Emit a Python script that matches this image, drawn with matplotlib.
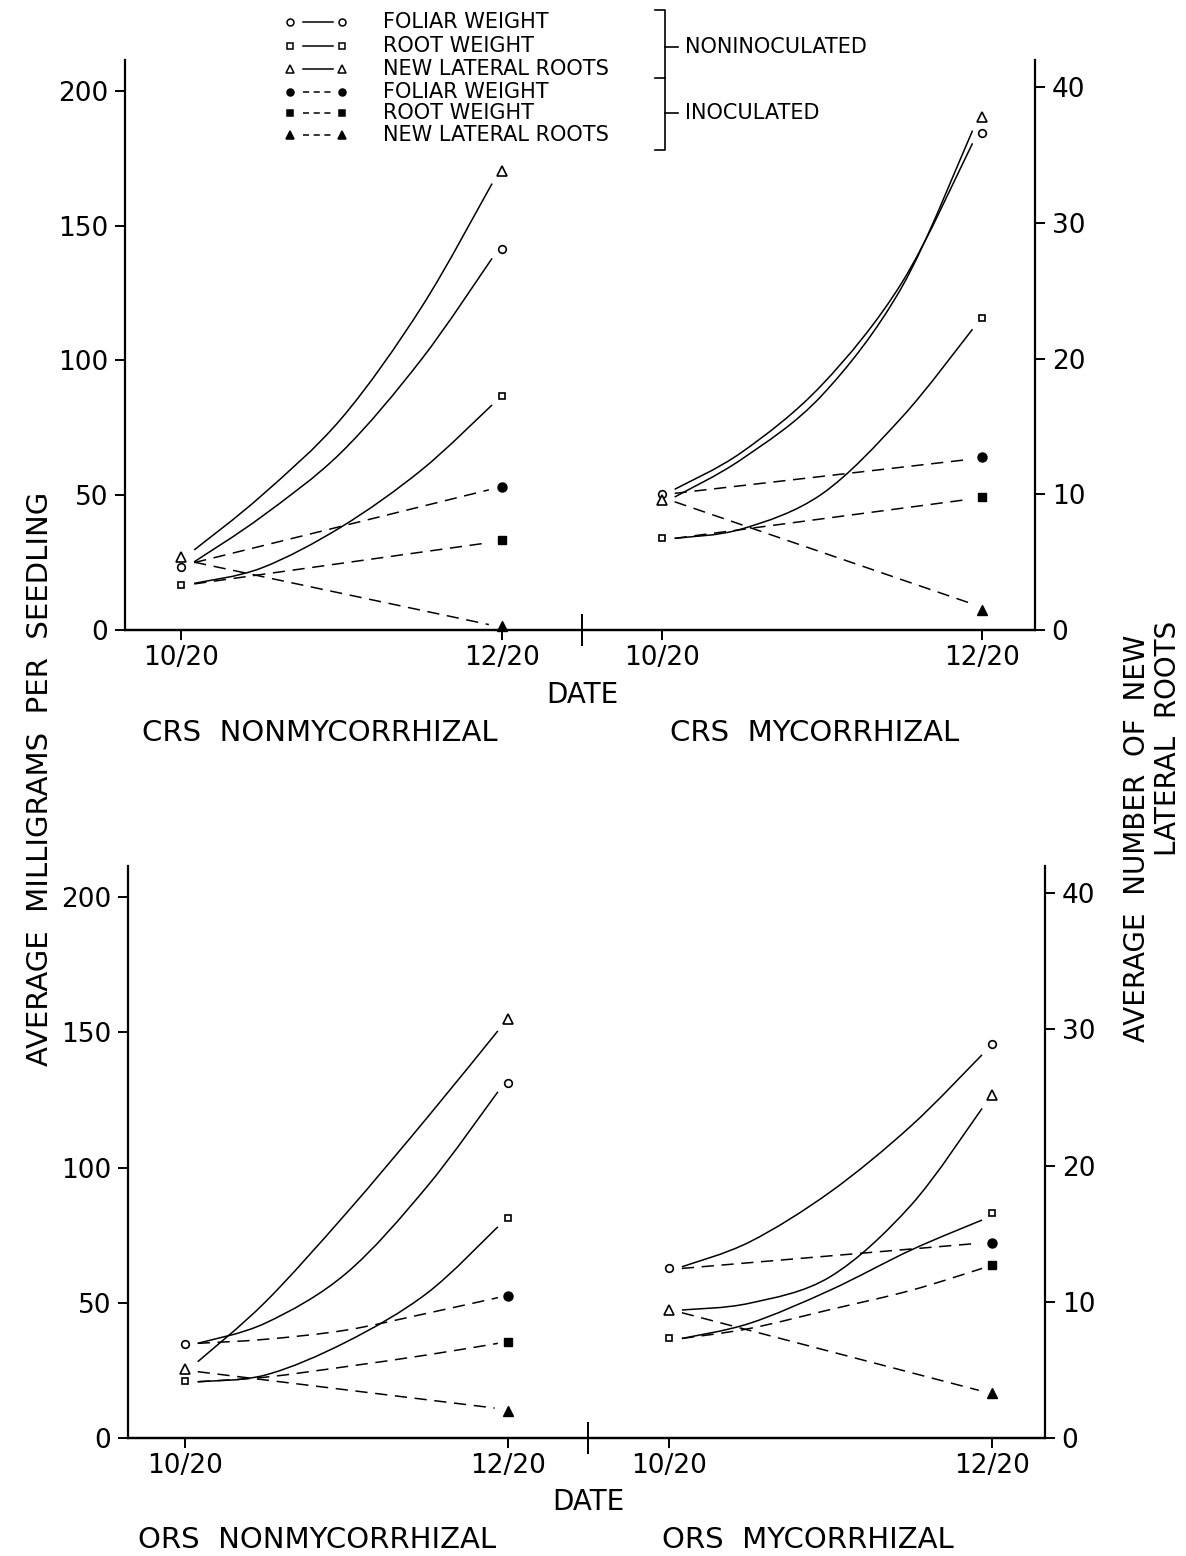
import matplotlib.pyplot as plt
from matplotlib.path import Path
from matplotlib.patches import PathPatch

W, H = 1186, 1556

DATES = ['10/20', '12/20']
MG_TICKS = [0, 50, 100, 150, 200]
ROOT_TICKS = [0, 10, 20, 30, 40]
PANEL_NAMES = ['CRS NONMYCORRHIZAL', 'CRS MYCORRHIZAL',
               'ORS NONMYCORRHIZAL', 'ORS MYCORRHIZAL']
LEGEND_ROWS = ['FOLIAR WEIGHT', 'ROOT WEIGHT', 'NEW LATERAL ROOTS']

# fraction of the way between the two dates where each line point sits
T_CURVE = [0.04, 0.25, 0.5, 0.75, 0.97]
T_STRAIGHT = [0.04, 0.96]

# ---- CRS nonmycorrhizal ----
crs_non_open = {'foliar': [23.4, 141.4], 'root': [16.7, 86.8], 'lateral': [5.4, 33.8]}
crs_non_inoc = {'foliar': 53.0, 'root': 33.4, 'lateral': 0.3}
crs_non_open_line = {'foliar': [25.3, 42.0, 66.0, 100.5, 137.9],
                     'root': [17.3, 23.0, 38.3, 59.4, 83.5],
                     'lateral': [5.9, 9.9, 15.6, 23.8, 32.9]}
crs_non_inoc_line = {'foliar': [25.0, 52.0], 'root': [17.1, 32.4], 'lateral': [5.0, 0.4]}

# ---- CRS mycorrhizal ----
crs_myc_open = {'foliar': [50.3, 184.3], 'root': [34.2, 115.9], 'lateral': [9.6, 37.8]}
crs_myc_inoc = {'foliar': 64.1, 'root': 49.2, 'lateral': 1.5}
crs_myc_open_line = {'foliar': [52.2, 66.0, 91.0, 129.0, 180.6],
                     'root': [34.0, 37.5, 50.5, 79.0, 111.6],
                     'lateral': [9.8, 12.6, 17.3, 25.3, 36.8]}
crs_myc_inoc_line = {'foliar': [50.7, 63.3], 'root': [34.0, 48.5], 'lateral': [9.45, 2.0]}

# ---- ORS nonmycorrhizal ----
ors_non_open = {'foliar': [34.6, 131.4], 'root': [21.1, 81.5], 'lateral': [5.05, 30.8]}
ors_non_inoc = {'foliar': 52.6, 'root': 35.4, 'lateral': 2.0}
ors_non_open_line = {'foliar': [35.0, 42.5, 60.9, 92.9, 128.0],
                     'root': [20.8, 23.3, 35.5, 53.5, 78.1],
                     'lateral': [5.6, 10.0, 16.5, 23.5, 29.9]}
ors_non_inoc_line = {'foliar': [35.0, 36.5, 39.9, 46.1, 51.9],
                     'root': [20.8, 22.5, 26.4, 30.7, 35.0],
                     'lateral': [4.87, 2.2]}

# ---- ORS mycorrhizal ----
ors_myc_open = {'foliar': [62.7, 145.7], 'root': [36.8, 83.3], 'lateral': [9.4, 25.2]}
ors_myc_inoc = {'foliar': 72.2, 'root': 64.0, 'lateral': 3.3}
ors_myc_open_line = {'foliar': [63.3, 72.5, 91.0, 115.4, 141.7],
                     'root': [36.8, 42.4, 54.7, 69.5, 80.6],
                     'lateral': [9.4, 9.9, 11.85, 17.1, 24.2]}
ors_myc_inoc_line = {'foliar': [62.7, 72.0],
                     'root': [36.8, 40.5, 47.5, 54.6, 62.7],
                     'lateral': [9.2, 3.5]}

MARKERS = {'foliar': ('o', 5.5), 'root': ('s', 4.8), 'lateral': ('^', 6.5)}
GROUP_X = [(0.0, 1.0), (1.5, 2.5)]
MG_MAX = 211.5
ROOT_MAX = MG_MAX / 5.035

plt.rcParams['font.family'] = ['DejaVu Sans']


def fx(x):
    return x / W


def fy(y):
    return 1 - y / H


def smooth_line(ax, xs, ys, ls):
    # draw a smooth curve through the read points (Catmull-Rom as Bezier)
    pts = list(zip(xs, ys))
    if len(pts) == 2:
        ax.plot(xs, ys, color='black', lw=1.1, ls=ls)
        return
    verts = [pts[0]]
    codes = [Path.MOVETO]
    n = len(pts)
    for i in range(n - 1):
        p0 = pts[max(i - 1, 0)]
        p1 = pts[i]
        p2 = pts[i + 1]
        p3 = pts[min(i + 2, n - 1)]
        c1 = (p1[0] + (p2[0] - p0[0]) / 6, p1[1] + (p2[1] - p0[1]) / 6)
        c2 = (p2[0] - (p3[0] - p1[0]) / 6, p2[1] - (p3[1] - p1[1]) / 6)
        verts += [c1, c2, p2]
        codes += [Path.CURVE4] * 3
    ax.add_patch(PathPatch(Path(verts, codes), fill=False, edgecolor='black',
                           lw=1.1, ls=ls))


def draw_group(ax, ax2, xs, open_mk, inoc_mk, open_ln, inoc_ln):
    x0, x1 = xs
    for key in ['foliar', 'root', 'lateral']:
        target = ax2 if key == 'lateral' else ax
        m, ms = MARKERS[key]
        target.plot([x0, x1], open_mk[key], ls='none', marker=m, ms=ms,
                    mfc='white', mec='black', mew=1.2, clip_on=False, zorder=4)
        target.plot([x1], [inoc_mk[key]], ls='none', marker=m, ms=ms + 1,
                    mfc='black', mec='black', clip_on=False, zorder=4)
        for vals, ls in [(open_ln[key], '-'), (inoc_ln[key], (0, (8, 5)))]:
            ts = T_CURVE if len(vals) == 5 else T_STRAIGHT
            smooth_line(target, [x0 + t * (x1 - x0) for t in ts], vals, ls)


def make_axes(rect):
    ax = fig.add_axes(rect)
    ax2 = ax.twinx()
    ax.set_xlim(-0.176, 2.665)
    ax.set_ylim(0, MG_MAX)
    ax2.set_ylim(0, ROOT_MAX)
    for a in (ax, ax2):
        a.spines['top'].set_visible(False)
        for s in ['left', 'right', 'bottom']:
            a.spines[s].set_linewidth(1.6)
    ax.spines['right'].set_visible(False)
    ax2.spines['left'].set_visible(False)
    ax.set_yticks(MG_TICKS)
    ax2.set_yticks(ROOT_TICKS)
    ax.set_xticks([0, 1, 1.5, 2.5])
    ax.set_xticklabels(DATES + DATES)
    ax.set_xticks([1.25], minor=True)
    ax.tick_params(axis='x', which='minor', direction='inout', length=23, width=1.4)
    ax.tick_params(axis='x', which='major', direction='out', length=7, width=1.4,
                   labelsize=19, pad=4)
    ax.tick_params(axis='y', direction='out', length=7, width=1.4, labelsize=19, pad=5)
    ax2.tick_params(axis='y', direction='out', length=7, width=1.4, labelsize=19, pad=5)
    return ax, ax2


fig = plt.figure(figsize=(W / 100, H / 100), dpi=100)

top, top2 = make_axes([fx(125), fy(630), fx(1035 - 125), (630 - 60) / H])
bot, bot2 = make_axes([fx(128), fy(1438), fx(1045 - 128), (1438 - 866) / H])

draw_group(top, top2, GROUP_X[0], crs_non_open, crs_non_inoc, crs_non_open_line, crs_non_inoc_line)
draw_group(top, top2, GROUP_X[1], crs_myc_open, crs_myc_inoc, crs_myc_open_line, crs_myc_inoc_line)
draw_group(bot, bot2, GROUP_X[0], ors_non_open, ors_non_inoc, ors_non_open_line, ors_non_inoc_line)
draw_group(bot, bot2, GROUP_X[1], ors_myc_open, ors_myc_inoc, ors_myc_open_line, ors_myc_inoc_line)

# axis titles and panel names
fig.text(fx(582), fy(695), 'DATE', ha='center', va='center', fontsize=20)
fig.text(fx(588), fy(1502), 'DATE', ha='center', va='center', fontsize=20)
fig.text(fx(142), fy(733), PANEL_NAMES[0].replace(' ', '  '), ha='left', va='center', fontsize=21)
fig.text(fx(670), fy(733), PANEL_NAMES[1].replace(' ', '  '), ha='left', va='center', fontsize=21)
fig.text(fx(138), fy(1540), PANEL_NAMES[2].replace(' ', '  '), ha='left', va='center', fontsize=21)
fig.text(fx(662), fy(1540), PANEL_NAMES[3].replace(' ', '  '), ha='left', va='center', fontsize=21)
fig.text(fx(40), fy(779), 'AVERAGE  MILLIGRAMS  PER  SEEDLING', rotation=90,
         ha='center', va='center', fontsize=21)
fig.text(fx(1137), fy(838), 'AVERAGE  NUMBER  OF  NEW', rotation=90,
         ha='center', va='center', fontsize=20)
fig.text(fx(1168), fy(738), 'LATERAL  ROOTS', rotation=90,
         ha='center', va='center', fontsize=20)

# hand-drawn style legend at the top
lax = fig.add_axes([0, 0, 1, 1], zorder=5)
lax.set_xlim(0, W)
lax.set_ylim(H, 0)
lax.axis('off')
rows_y = [22, 46, 69, 92, 113, 135]
for i, y in enumerate(rows_y):
    key = ['foliar', 'root', 'lateral'][i % 3]
    m, ms = MARKERS[key]
    inoc = i >= 3
    face = 'black' if inoc else 'white'
    lax.plot([290, 342], [y, y], ls='none', marker=m, ms=ms - 0.5,
             mfc=face, mec='black', mew=1.1)
    lax.plot([303, 333], [y, y], color='black', lw=1.1,
             ls=(0, (4, 3)) if inoc else '-')
    lax.text(383, y, LEGEND_ROWS[i % 3], ha='left', va='center', fontsize=15)
lax.plot([655, 665, 665, 655], [10, 10, 78, 78], color='black', lw=1.2)
lax.plot([665, 665, 655], [78, 150, 150], color='black', lw=1.2)
lax.plot([665, 678], [47, 47], color='black', lw=1.2)
lax.plot([665, 678], [113, 113], color='black', lw=1.2)
lax.text(685, 47, 'NONINOCULATED', ha='left', va='center', fontsize=15)
lax.text(685, 113, 'INOCULATED', ha='left', va='center', fontsize=15)

fig.savefig('out.png', dpi=100)
